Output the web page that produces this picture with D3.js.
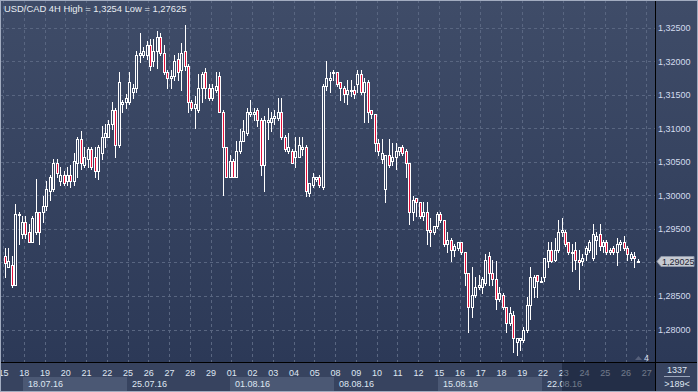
<!DOCTYPE html>
<html>
<head>
<meta charset="utf-8">
<script src="https://cdn.jsdelivr.net/npm/d3@7"></script>
<style>
  body { margin: 0; background: #2c3956; }
  svg { display: block; }
  text { font-family: "Liberation Sans", Arial, sans-serif; }
</style>
</head>
<body>
<svg width="698" height="392"></svg>
<script>
// USD/CAD 4H candles, 15.07.16 - 26.08.16 (6 bars per trading day)
const opens = [
  1.2910, 1.2894, 1.2896, 1.2867, 1.2972, 1.2942, 1.2960, 1.2945, 1.2931, 1.2945,
  1.2975, 1.2975, 1.2984, 1.3006, 1.3009, 1.3049, 1.3021, 1.3031, 1.3021, 1.3031,
  1.3021, 1.3049, 1.3084, 1.3046, 1.3054, 1.3069, 1.3057, 1.3036, 1.3064, 1.3087,
  1.3088, 1.3106, 1.3128, 1.3076, 1.3136, 1.3140, 1.3140, 1.3155, 1.3161, 1.3210,
  1.3210, 1.3210, 1.3225, 1.3200, 1.3215, 1.3237, 1.3213, 1.3185, 1.3176, 1.3178,
  1.3203, 1.3188, 1.3215, 1.3193, 1.3140, 1.3131, 1.3128, 1.3161, 1.3184, 1.3161,
  1.3146, 1.3158, 1.3178, 1.3124, 1.3072, 1.3028, 1.3051, 1.3028, 1.3066, 1.3081,
  1.3094, 1.3121, 1.3121, 1.3128, 1.3113, 1.3046, 1.3110, 1.3110, 1.3116, 1.3116,
  1.3125, 1.3087, 1.3066, 1.3066, 1.3058, 1.3058, 1.3069, 1.3073, 1.3004, 1.3016,
  1.3024, 1.3027, 1.3013, 1.3163, 1.3173, 1.3184, 1.3185, 1.3169, 1.3161, 1.3151,
  1.3157, 1.3158, 1.3166, 1.3182, 1.3155, 1.3170, 1.3128, 1.3121, 1.3079, 1.3054,
  1.3009, 1.3061, 1.3051, 1.3058, 1.3066, 1.3072, 1.3066, 1.3049, 1.2975, 1.2996,
  1.2990, 1.2969, 1.2976, 1.2949, 1.2945, 1.2954, 1.2972, 1.2964, 1.2927, 1.2934,
  1.2919, 1.2922, 1.2930, 1.2915, 1.2885, 1.2834, 1.2852, 1.2864, 1.2864, 1.2870,
  1.2910, 1.2885, 1.2875, 1.2845, 1.2852, 1.2833, 1.2810, 1.2822, 1.2782, 1.2785,
  1.2785, 1.2800, 1.2837, 1.2864, 1.2881, 1.2872, 1.2879, 1.2902, 1.2919, 1.2904,
  1.2919, 1.2945, 1.2946, 1.2930, 1.2915, 1.2919, 1.2904, 1.2902, 1.2912, 1.2919,
  1.2907, 1.2934, 1.2942, 1.2924, 1.2931, 1.2916, 1.2922, 1.2915, 1.2927, 1.2931,
  1.2922, 1.2907, 1.2909, 1.2901
];
const highs = [
  1.2921, 1.2921, 1.2910, 1.2988, 1.2975, 1.2969, 1.2969, 1.2957, 1.2970, 1.3024,
  1.2976, 1.2999, 1.3021, 1.3031, 1.3054, 1.3054, 1.3043, 1.3036, 1.3042, 1.3046,
  1.3064, 1.3088, 1.3096, 1.3073, 1.3072, 1.3072, 1.3072, 1.3075, 1.3103, 1.3106,
  1.3113, 1.3140, 1.3131, 1.3185, 1.3143, 1.3151, 1.3185, 1.3166, 1.3215, 1.3243,
  1.3221, 1.3230, 1.3233, 1.3233, 1.3245, 1.3243, 1.3225, 1.3188, 1.3188, 1.3210,
  1.3213, 1.3228, 1.3254, 1.3196, 1.3143, 1.3148, 1.3181, 1.3185, 1.3191, 1.3166,
  1.3166, 1.3185, 1.3185, 1.3128, 1.3072, 1.3061, 1.3054, 1.3081, 1.3099, 1.3113,
  1.3131, 1.3143, 1.3131, 1.3131, 1.3116, 1.3118, 1.3131, 1.3124, 1.3128, 1.3146,
  1.3146, 1.3091, 1.3094, 1.3069, 1.3088, 1.3088, 1.3088, 1.3076, 1.3019, 1.3034,
  1.3028, 1.3030, 1.3166, 1.3200, 1.3184, 1.3188, 1.3185, 1.3170, 1.3163, 1.3173,
  1.3173, 1.3163, 1.3188, 1.3188, 1.3176, 1.3173, 1.3128, 1.3121, 1.3084, 1.3084,
  1.3061, 1.3084, 1.3079, 1.3079, 1.3073, 1.3076, 1.3069, 1.3049, 1.2999, 1.2997,
  1.2991, 1.2990, 1.2990, 1.2967, 1.2954, 1.2975, 1.2976, 1.2964, 1.2946, 1.2937,
  1.2927, 1.2931, 1.2931, 1.2915, 1.2885, 1.2894, 1.2879, 1.2882, 1.2879, 1.2912,
  1.2916, 1.2904, 1.2902, 1.2864, 1.2855, 1.2833, 1.2834, 1.2827, 1.2788, 1.2788,
  1.2804, 1.2848, 1.2893, 1.2882, 1.2882, 1.2878, 1.2907, 1.2930, 1.2930, 1.2937,
  1.2964, 1.2967, 1.2949, 1.2930, 1.2927, 1.2931, 1.2919, 1.2912, 1.2924, 1.2934,
  1.2957, 1.2946, 1.2957, 1.2934, 1.2934, 1.2922, 1.2924, 1.2937, 1.2934, 1.2939,
  1.2924, 1.2915, 1.2915, 1.2905
];
const lows = [
  1.2879, 1.2893, 1.2863, 1.2866, 1.2927, 1.2937, 1.2937, 1.2930, 1.2930, 1.2943,
  1.2928, 1.2961, 1.2979, 1.2994, 1.3006, 1.3027, 1.3016, 1.3015, 1.3016, 1.3013,
  1.3016, 1.3027, 1.3039, 1.3043, 1.3042, 1.3039, 1.3027, 1.3024, 1.3054, 1.3073,
  1.3087, 1.3099, 1.3057, 1.3073, 1.3125, 1.3131, 1.3137, 1.3146, 1.3155, 1.3199,
  1.3206, 1.3203, 1.3188, 1.3193, 1.3191, 1.3210, 1.3181, 1.3161, 1.3161, 1.3173,
  1.3173, 1.3158, 1.3188, 1.3124, 1.3128, 1.3101, 1.3125, 1.3140, 1.3146, 1.3143,
  1.3143, 1.3155, 1.3124, 1.3001, 1.3028, 1.3028, 1.3027, 1.3027, 1.3064, 1.3081,
  1.3091, 1.3118, 1.3113, 1.3103, 1.3031, 1.3006, 1.3084, 1.3096, 1.3106, 1.3113,
  1.3084, 1.3066, 1.3064, 1.3049, 1.3043, 1.3057, 1.3061, 1.2999, 1.2999, 1.3012,
  1.3021, 1.3012, 1.3009, 1.3158, 1.3154, 1.3173, 1.3163, 1.3143, 1.3140, 1.3136,
  1.3149, 1.3146, 1.3154, 1.3151, 1.3110, 1.3110, 1.3116, 1.3066, 1.3061, 1.3049,
  1.2991, 1.3043, 1.3046, 1.3039, 1.3061, 1.3061, 1.3027, 1.2957, 1.2964, 1.2969,
  1.2967, 1.2964, 1.2927, 1.2924, 1.2942, 1.2952, 1.2961, 1.2924, 1.2916, 1.2902,
  1.2909, 1.2919, 1.2912, 1.2867, 1.2797, 1.2819, 1.2849, 1.2860, 1.2855, 1.2867,
  1.2867, 1.2867, 1.2830, 1.2842, 1.2830, 1.2797, 1.2807, 1.2766, 1.27625, 1.2770,
  1.2782, 1.2797, 1.2815, 1.2849, 1.2849, 1.2872, 1.2872, 1.2894, 1.2900, 1.2902,
  1.2916, 1.2940, 1.2925, 1.2912, 1.2887, 1.2890, 1.2860, 1.2897, 1.2904, 1.2916,
  1.2904, 1.2912, 1.2919, 1.2916, 1.2913, 1.2913, 1.2912, 1.2897, 1.2919, 1.2919,
  1.2904, 1.2904, 1.2893, 1.2900
];
const closes = [
  1.2899, 1.2902, 1.2867, 1.2972, 1.2973, 1.2960, 1.2942, 1.2931, 1.2967, 1.2975,
  1.2945, 1.2984, 1.3009, 1.3027, 1.3049, 1.3034, 1.3031, 1.3019, 1.3031, 1.3021,
  1.3051, 1.3084, 1.3049, 1.3057, 1.3069, 1.3043, 1.3036, 1.3072, 1.3088, 1.3094,
  1.3106, 1.3128, 1.3076, 1.3170, 1.3140, 1.3145, 1.3169, 1.3161, 1.3210, 1.3213,
  1.3215, 1.3225, 1.3193, 1.3215, 1.3237, 1.3213, 1.3185, 1.3176, 1.3178, 1.3200,
  1.3185, 1.3213, 1.3193, 1.3140, 1.3131, 1.3136, 1.3161, 1.3181, 1.3161, 1.3146,
  1.3161, 1.3163, 1.3124, 1.3072, 1.3028, 1.3051, 1.3028, 1.3066, 1.3081, 1.3096,
  1.3124, 1.3124, 1.3124, 1.3113, 1.3046, 1.3113, 1.3113, 1.3116, 1.3119, 1.3124,
  1.3087, 1.3069, 1.3073, 1.3049, 1.3066, 1.3076, 1.3073, 1.3006, 1.3019, 1.3027,
  1.3028, 1.3015, 1.3163, 1.3176, 1.3176, 1.3185, 1.3166, 1.3161, 1.3151, 1.3158,
  1.3158, 1.3151, 1.3181, 1.3154, 1.3170, 1.3125, 1.3121, 1.3079, 1.3066, 1.3064,
  1.3061, 1.3046, 1.3058, 1.3066, 1.3072, 1.3064, 1.3049, 1.2975, 1.2994, 1.2990,
  1.2969, 1.2976, 1.2949, 1.2945, 1.2954, 1.2972, 1.2964, 1.2927, 1.2934, 1.2919,
  1.2924, 1.2930, 1.2915, 1.2885, 1.2834, 1.2852, 1.2864, 1.2867, 1.2875, 1.2904,
  1.2885, 1.2875, 1.2845, 1.2855, 1.2833, 1.2810, 1.2825, 1.2788, 1.2788, 1.2788,
  1.2800, 1.2837, 1.2879, 1.2879, 1.2872, 1.2873, 1.2907, 1.2919, 1.2902, 1.2919,
  1.2946, 1.2948, 1.2927, 1.2915, 1.2916, 1.2904, 1.2900, 1.2907, 1.2922, 1.2930,
  1.2942, 1.2939, 1.2924, 1.2931, 1.2916, 1.2919, 1.2915, 1.2927, 1.2931, 1.2922,
  1.2912, 1.2912, 1.2907, 1.29025
];

const dayLabels = ['15', '18', '19', '20', '21', '22', '25', '26', '27', '28', '29',
  '01', '02', '03', '04', '05', '08', '09', '10', '11', '12',
  '15', '16', '17', '18', '19', '22', '23', '24', '25', '26', '27'];
const weekLabels = ['18.07.16', '25.07.16', '01.08.16', '08.08.16', '15.08.16', '22.08.16'];
const priceTicks = [1.280, 1.285, 1.290, 1.295, 1.300, 1.305, 1.310, 1.315, 1.320, 1.325];
const title = 'USD/CAD 4H High = 1,3254 Low = 1,27625';
const lastPrice = 1.29025;
const barsPerDay = 6;

const W = 698;
const H = 392;
const plotRight = 655;
const plotBottom = 363;

const svg = d3.select('svg');
const fmt = v => d3.format('.5f')(v).replace('.', ',');

const x = d3.scaleLinear()
  .domain([0, dayLabels.length * barsPerDay - barsPerDay])
  .range([3, 3 + 20.75 * (dayLabels.length - 1)]);
const y = d3.scaleLinear()
  .domain([1.28, 1.325])
  .range([329.5, 28]);

// background
const defs = svg.append('defs');
const grad = defs.append('linearGradient')
  .attr('id', 'bg')
  .attr('gradientUnits', 'userSpaceOnUse')
  .attr('x1', 0).attr('y1', 0).attr('x2', 0).attr('y2', plotBottom);
grad.append('stop').attr('offset', 0).attr('stop-color', '#3f4c68');
grad.append('stop').attr('offset', 1).attr('stop-color', '#2c3957');

svg.append('rect')
  .attr('width', W).attr('height', H)
  .attr('fill', 'url(#bg)');
svg.append('rect')
  .attr('y', plotBottom).attr('width', W).attr('height', H - plotBottom)
  .attr('fill', '#37435f');

// grid
const grid = svg.append('g')
  .attr('stroke', '#596681')
  .attr('stroke-dasharray', '3,3');
grid.selectAll('.vg')
  .data(dayLabels.map((d, i) => i * barsPerDay))
  .join('line')
  .attr('class', 'vg')
  .attr('x1', d => Math.round(x(d)) + 0.5)
  .attr('x2', d => Math.round(x(d)) + 0.5)
  .attr('y1', 0)
  .attr('y2', plotBottom);
grid.selectAll('.hg')
  .data(priceTicks)
  .join('line')
  .attr('class', 'hg')
  .attr('x1', 0)
  .attr('x2', plotRight)
  .attr('y1', d => Math.round(y(d)) + 0.5)
  .attr('y2', d => Math.round(y(d)) + 0.5);

// candles
const bars = opens.map((o, i) => ({i, o, h: highs[i], l: lows[i], c: closes[i]}));
const cx = d => Math.round(x(d.i + 0.5));
const py = v => Math.round(y(v));

const candles = svg.append('g')
  .selectAll('g')
  .data(bars)
  .join('g');
candles.append('line')
  .attr('x1', d => cx(d) + 0.5)
  .attr('x2', d => cx(d) + 0.5)
  .attr('y1', d => py(d.h))
  .attr('y2', d => py(d.l) + 1)
  .attr('stroke', '#ffffff');
candles.append('rect')
  .attr('x', d => cx(d) - 0.5)
  .attr('y', d => Math.min(py(d.o), py(d.c)) + 0.5)
  .attr('width', 2)
  .attr('height', d => Math.max(1, Math.abs(py(d.o) - py(d.c))))
  .attr('fill', d => d.c < d.o ? '#e5103a' : 'url(#bg)')
  .attr('stroke', '#ffffff');

svg.append('text')
  .attr('x', 4)
  .attr('y', 12)
  .attr('font-size', 9.4)
  .attr('fill', '#e8ecf2')
  .text(title);

// right price axis (the label under the last-price tag is hidden)
const ly = Math.round(y(lastPrice)) + 0.5;
const yAxis = svg.append('g')
  .attr('transform', `translate(${plotRight},0)`)
  .call(d3.axisRight(y)
    .tickValues(priceTicks.filter(v => Math.abs(y(v) - ly) > 8))
    .tickSize(0)
    .tickPadding(3)
    .tickFormat(fmt));
yAxis.select('.domain').remove();
yAxis.selectAll('text')
  .attr('font-size', 9)
  .attr('font-family', '"Liberation Sans", Arial, sans-serif')
  .attr('fill', '#d3dcee');

// bottom time axis
const weekStarts = weekLabels.map((d, w) => (1 + w * 5) * barsPerDay);
svg.append('g')
  .selectAll('rect')
  .data(weekStarts.filter((d, w) => w % 2 === 0))
  .join('rect')
  .attr('x', d => Math.round(x(d)) - 1)
  .attr('y', 377)
  .attr('width', d => Math.round(x(d + 5 * barsPerDay)) - Math.round(x(d)))
  .attr('height', 14)
  .attr('fill', '#4b5874');

const xAxis = svg.append('g')
  .attr('transform', `translate(0,${plotBottom})`)
  .call(d3.axisBottom(x)
    .tickValues(dayLabels.map((d, i) => i * barsPerDay))
    .tickSize(0)
    .tickFormat((d, i) => dayLabels[i]));
xAxis.select('.domain').remove();
xAxis.selectAll('text')
  .attr('y', 13)
  .attr('dy', null)
  .attr('font-size', 9)
  .attr('font-family', '"Liberation Sans", Arial, sans-serif')
  .attr('fill', '#dfe6f2');

svg.append('g')
  .selectAll('text')
  .data(weekLabels)
  .join('text')
  .attr('x', (d, w) => Math.round(x(weekStarts[w])) + 4)
  .attr('y', 387)
  .attr('font-size', 9)
  .attr('fill', '#dfe6f2')
  .text(d => d);

// shaded scroll region at the end of the time axis
svg.append('rect')
  .attr('x', 562)
  .attr('y', plotBottom)
  .attr('width', plotRight - 562)
  .attr('height', H - plotBottom)
  .attr('fill', '#141d33')
  .attr('opacity', 0.55);

// frame lines
svg.append('line')
  .attr('x1', plotRight + 0.5).attr('x2', plotRight + 0.5)
  .attr('y1', 0).attr('y2', H)
  .attr('stroke', '#000');
svg.append('line')
  .attr('x1', 0).attr('x2', W)
  .attr('y1', plotBottom - 0.5).attr('y2', plotBottom - 0.5)
  .attr('stroke', '#000');

// last price tag
svg.append('path')
  .attr('d', `M657,${ly}L661,${ly - 5}L694,${ly - 5}L694,${ly + 5}L661,${ly + 5}Z`)
  .attr('fill', '#c6cad2')
  .attr('stroke', '#8e97a8');
svg.append('text')
  .attr('x', 662)
  .attr('y', ly + 3.5)
  .attr('font-size', 9)
  .attr('fill', '#1c2434')
  .text(fmt(lastPrice));

// bar counter
svg.append('path')
  .attr('d', 'M635,360L638.5,356L642,360Z')
  .attr('fill', '#56607a');
svg.append('text')
  .attr('x', 644)
  .attr('y', 361)
  .attr('font-size', 9)
  .attr('fill', '#d6deec')
  .text('4');

svg.append('text')
  .attr('x', 677)
  .attr('y', 373)
  .attr('text-anchor', 'middle')
  .attr('font-size', 9)
  .attr('fill', '#dfe6f2')
  .text('1337');
svg.append('line')
  .attr('x1', 664).attr('x2', 690)
  .attr('y1', 376.5).attr('y2', 376.5)
  .attr('stroke', '#9aa5ba');
svg.append('text')
  .attr('x', 677)
  .attr('y', 387)
  .attr('text-anchor', 'middle')
  .attr('font-size', 9)
  .attr('fill', '#dfe6f2')
  .text('>189<');

// outer border
svg.append('rect')
  .attr('x', 0.5).attr('y', 0.5)
  .attr('width', W - 1).attr('height', H - 1)
  .attr('fill', 'none')
  .attr('stroke', '#a2acc0');
</script>
</body>
</html>
